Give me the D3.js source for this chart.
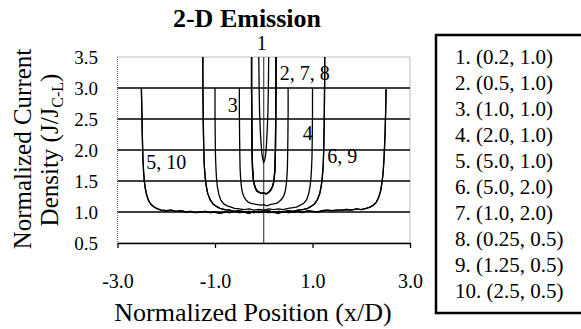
<!DOCTYPE html>
<html>
<head>
<meta charset="utf-8">
<script src="https://cdn.jsdelivr.net/npm/d3@7"></script>
<style>
  html, body { margin: 0; padding: 0; background: #fff; }
  svg text { font-family: "Liberation Serif", Times, serif; fill: #000; }
</style>
</head>
<body>
<div id="data-viz"></div>
<script>
// tick values and labels
const xTicks = [-3, -1, 1, 3];
const xTickLabels = ['-3.0', '-1.0', '1.0', '3.0'];
const yTicks = [0.5, 1.0, 1.5, 2.0, 2.5, 3.0, 3.5];
const gridValues = [1.0, 1.5, 2.0, 2.5, 3.0];

// legend entries: (width, gap)
const legendLabels = ['1. (0.2, 1.0)', '2. (0.5, 1.0)', '3. (1.0, 1.0)', '4. (2.0, 1.0)', '5. (5.0, 1.0)',
  '6. (5.0, 2.0)', '7. (1.0, 2.0)', '8. (0.25, 0.5)', '9. (1.25, 0.5)', '10. (2.5, 0.5)'];

// profiles, [x/D, J/Jcl]
const profileA = [[-0.105, 3.6], [-0.1, 3.4], [-0.095, 3.0], [-0.085, 2.6], [-0.07, 2.3], [-0.055, 2.1],
  [-0.04, 1.95], [-0.02, 1.85], [0, 1.8], [0.02, 1.84], [0.04, 1.93], [0.055, 2.08], [0.07, 2.3],
  [0.085, 2.6], [0.095, 3.0], [0.1, 3.4], [0.105, 3.6]];

const profileB = [[-0.25, 3.6], [-0.25, 3.0], [-0.245, 2.5], [-0.24, 2.0], [-0.23, 1.7], [-0.21, 1.5],
  [-0.18, 1.4], [-0.14, 1.34], [-0.1, 1.32], [-0.05, 1.3], [0, 1.31], [0.05, 1.29], [0.1, 1.32],
  [0.14, 1.35], [0.18, 1.41], [0.21, 1.5], [0.23, 1.7], [0.24, 2.0], [0.245, 2.5], [0.25, 3.0], [0.25, 3.6]];

const profileC = [[-0.5, 3.0], [-0.5, 2.6], [-0.495, 2.2], [-0.49, 1.9], [-0.485, 1.7], [-0.475, 1.55],
  [-0.46, 1.42], [-0.44, 1.32], [-0.41, 1.25], [-0.37, 1.2], [-0.32, 1.16], [-0.26, 1.14], [-0.2, 1.13],
  [-0.13, 1.12], [-0.06, 1.11], [0, 1.12], [0.06, 1.1], [0.13, 1.12], [0.2, 1.13], [0.26, 1.14],
  [0.32, 1.17], [0.37, 1.21], [0.41, 1.26], [0.44, 1.33], [0.46, 1.43], [0.475, 1.56], [0.485, 1.7],
  [0.49, 1.9], [0.495, 2.2], [0.5, 2.6], [0.5, 3.0]];

const profileD = [[-1.0, 3.0], [-1.0, 2.6], [-0.995, 2.2], [-0.99, 1.9], [-0.98, 1.7], [-0.97, 1.55],
  [-0.95, 1.4], [-0.92, 1.28], [-0.88, 1.19], [-0.82, 1.13], [-0.75, 1.1], [-0.67, 1.08], [-0.6, 1.06],
  [-0.5, 1.05], [-0.4, 1.04], [-0.3, 1.05], [-0.2, 1.03], [-0.1, 1.04], [0, 1.03], [0.1, 1.05],
  [0.2, 1.04], [0.3, 1.05], [0.4, 1.04], [0.5, 1.06], [0.6, 1.07], [0.67, 1.08], [0.75, 1.11],
  [0.82, 1.14], [0.88, 1.2], [0.92, 1.29], [0.95, 1.41], [0.97, 1.56], [0.98, 1.7], [0.99, 1.9],
  [0.995, 2.2], [1.0, 2.6], [1.0, 3.0]];

const profileE = [[-1.25, 3.6], [-1.25, 3.2], [-1.245, 2.8], [-1.24, 2.4], [-1.23, 2.0], [-1.22, 1.75],
  [-1.2, 1.55], [-1.18, 1.42], [-1.15, 1.3], [-1.1, 1.2], [-1.04, 1.13], [-0.97, 1.09], [-0.9, 1.06],
  [-0.8, 1.04], [-0.7, 1.03], [-0.6, 1.01], [-0.5, 1.02], [-0.4, 1.0], [-0.3, 1.01], [-0.2, 0.99],
  [-0.1, 1.01], [0, 1.0], [0.1, 1.02], [0.2, 0.99], [0.3, 1.01], [0.4, 1.0], [0.5, 1.02], [0.6, 1.01],
  [0.7, 1.03], [0.8, 1.04], [0.9, 1.06], [0.97, 1.09], [1.04, 1.13], [1.1, 1.2], [1.15, 1.3],
  [1.18, 1.42], [1.2, 1.55], [1.22, 1.75], [1.23, 2.0], [1.24, 2.4], [1.245, 2.8], [1.25, 3.2], [1.25, 3.6]];

const profileF = [[-2.51, 3.0], [-2.5, 2.6], [-2.49, 2.2], [-2.48, 1.9], [-2.465, 1.65], [-2.45, 1.5],
  [-2.43, 1.38], [-2.4, 1.27], [-2.36, 1.18], [-2.31, 1.12], [-2.25, 1.08], [-2.18, 1.05], [-2.1, 1.03],
  [-2.0, 1.02], [-1.9, 1.03], [-1.8, 1.01], [-1.7, 1.02], [-1.6, 1.0], [-1.5, 1.01], [-1.4, 0.99],
  [-1.3, 1.0], [-1.2, 1.01], [-1.1, 0.99], [-1.0, 1.0], [-0.9, 0.98], [-0.8, 1.0], [-0.7, 0.99],
  [-0.6, 1.01], [-0.5, 0.99], [-0.4, 1.0], [-0.3, 0.98], [-0.2, 1.01], [-0.1, 0.99], [0, 1.02],
  [0.1, 0.99], [0.2, 1.0], [0.3, 0.98], [0.4, 1.01], [0.5, 0.99], [0.6, 1.0], [0.7, 1.01], [0.8, 0.99],
  [0.9, 1.02], [1.0, 1.01], [1.1, 1.0], [1.2, 1.02], [1.3, 1.03], [1.4, 1.02], [1.5, 1.03], [1.6, 1.03],
  [1.7, 1.04], [1.8, 1.03], [1.9, 1.05], [2.0, 1.04], [2.1, 1.06], [2.18, 1.08], [2.25, 1.11],
  [2.31, 1.16], [2.36, 1.24], [2.4, 1.35], [2.43, 1.5], [2.45, 1.65], [2.47, 1.9], [2.49, 2.3],
  [2.5, 2.6], [2.51, 2.98]];

// series 1..10 -> profile (curves with the same width/gap ratio overlap)
const seriesProfiles = [profileA, profileB, profileC, profileD, profileF, profileE, profileB, profileB, profileE, profileF];

// labels written on the curves
const curveLabels = ['1', '2, 7, 8', '3', '4', '5, 10', '6, 9'];
const curveLabelPos = [[-0.04, 3.72], [0.33, 3.25], [-0.74, 2.72], [0.8, 2.27], [-2.41, 1.8], [1.3, 1.9]];
const curveLabelAnchor = ['middle', 'start', 'start', 'start', 'start', 'start'];

const width = 581;
const height = 329;
const plot = {left: 117.5, right: 410, top: 57, bottom: 243};
const serif = '"Liberation Serif", Times, serif';

const svg = d3.select('#data-viz')
  .append('svg')
  .attr('width', width)
  .attr('height', height)
  .attr('font-family', serif);

const x = d3.scaleLinear().domain([-3, 3]).range([plot.left, plot.right]);
const y = d3.scaleLinear().domain([0.5, 3.5]).range([plot.bottom, plot.top]);

// title
svg.append('text')
  .attr('x', 247).attr('y', 27)
  .attr('text-anchor', 'middle')
  .style('font-size', '26px').style('font-weight', 'bold')
  .text('2-D Emission');

// dotted plot border
svg.append('rect')
  .attr('x', plot.left).attr('y', plot.top)
  .attr('width', plot.right - plot.left).attr('height', plot.bottom - plot.top)
  .attr('fill', 'none').attr('stroke', '#777').attr('stroke-width', 1)
  .attr('stroke-dasharray', '1,1');

// horizontal gridlines
svg.selectAll('line.grid')
  .data(gridValues)
  .enter()
  .append('line')
  .attr('class', 'grid')
  .attr('x1', plot.left).attr('x2', plot.right)
  .attr('y1', d => y(d)).attr('y2', d => y(d))
  .attr('stroke', '#000').attr('stroke-width', 1.6);

// x axis
const xAxis = svg.append('g')
  .attr('transform', 'translate(0,' + y(0.5) + ')')
  .call(d3.axisBottom(x).tickValues(xTicks).tickSize(5).tickSizeOuter(0)
    .tickFormat((d, i) => xTickLabels[i]));
xAxis.select('.domain').attr('stroke', '#000').attr('stroke-width', 1.6);
xAxis.selectAll('.tick line').attr('stroke', '#000').attr('stroke-width', 1.3);
xAxis.selectAll('.tick text')
  .attr('y', 0).attr('dy', 45)
  .style('font-size', '20px')
  .style('font-family', serif);

// vertical axis line at x = 0
svg.append('line')
  .attr('x1', x(0)).attr('x2', x(0))
  .attr('y1', plot.top).attr('y2', plot.bottom)
  .attr('stroke', '#222').attr('stroke-width', 1);

// y tick labels on the left
svg.selectAll('text.ylab')
  .data(yTicks)
  .enter()
  .append('text')
  .attr('class', 'ylab')
  .attr('x', 98)
  .attr('y', d => y(d))
  .attr('dy', '0.35em')
  .attr('text-anchor', 'end')
  .style('font-size', '19px')
  .text(d => d3.format('.1f')(d));

// curves, clipped to the plot area
svg.append('clipPath').attr('id', 'clip')
  .append('rect')
  .attr('x', plot.left).attr('y', plot.top)
  .attr('width', plot.right - plot.left).attr('height', plot.bottom - plot.top);

const line = d3.line()
  .x(d => x(d[0]))
  .y(d => y(d[1]));

svg.append('g')
  .attr('clip-path', 'url(#clip)')
  .selectAll('path')
  .data(seriesProfiles)
  .enter()
  .append('path')
  .attr('d', line)
  .attr('fill', 'none')
  .attr('stroke', '#000')
  .attr('stroke-width', 1.3);

// curve labels
svg.selectAll('text.clab')
  .data(curveLabels)
  .enter()
  .append('text')
  .attr('class', 'clab')
  .attr('x', (d, i) => x(curveLabelPos[i][0]))
  .attr('y', (d, i) => y(curveLabelPos[i][1]))
  .attr('dy', '0.35em')
  .attr('text-anchor', (d, i) => curveLabelAnchor[i])
  .style('font-size', '20px')
  .text(d => d);

// axis titles
svg.append('text')
  .attr('x', 253).attr('y', 321)
  .attr('text-anchor', 'middle')
  .style('font-size', '26px')
  .text('Normalized Position (x/D)');

svg.append('text')
  .attr('transform', 'translate(31,149) rotate(-90)')
  .attr('text-anchor', 'middle')
  .style('font-size', '25px')
  .text('Normalized Current');

const yTitle2 = svg.append('text')
  .attr('transform', 'translate(58,150) rotate(-90)')
  .attr('text-anchor', 'middle')
  .style('font-size', '25px');
yTitle2.append('tspan').text('Density (J/J');
yTitle2.append('tspan').attr('dy', 5).style('font-size', '16px').text('C-L');
yTitle2.append('tspan').attr('dy', -5).text(')');

// legend box
svg.append('rect')
  .attr('x', 436).attr('y', 35)
  .attr('width', 150).attr('height', 278)
  .attr('fill', 'none').attr('stroke', '#000').attr('stroke-width', 2.5);

svg.selectAll('text.leg')
  .data(legendLabels)
  .enter()
  .append('text')
  .attr('class', 'leg')
  .attr('x', 455)
  .attr('y', (d, i) => 57 + i * 26)
  .attr('dy', '0.35em')
  .style('font-size', '21px')
  .text(d => d);
</script>
</body>
</html>
